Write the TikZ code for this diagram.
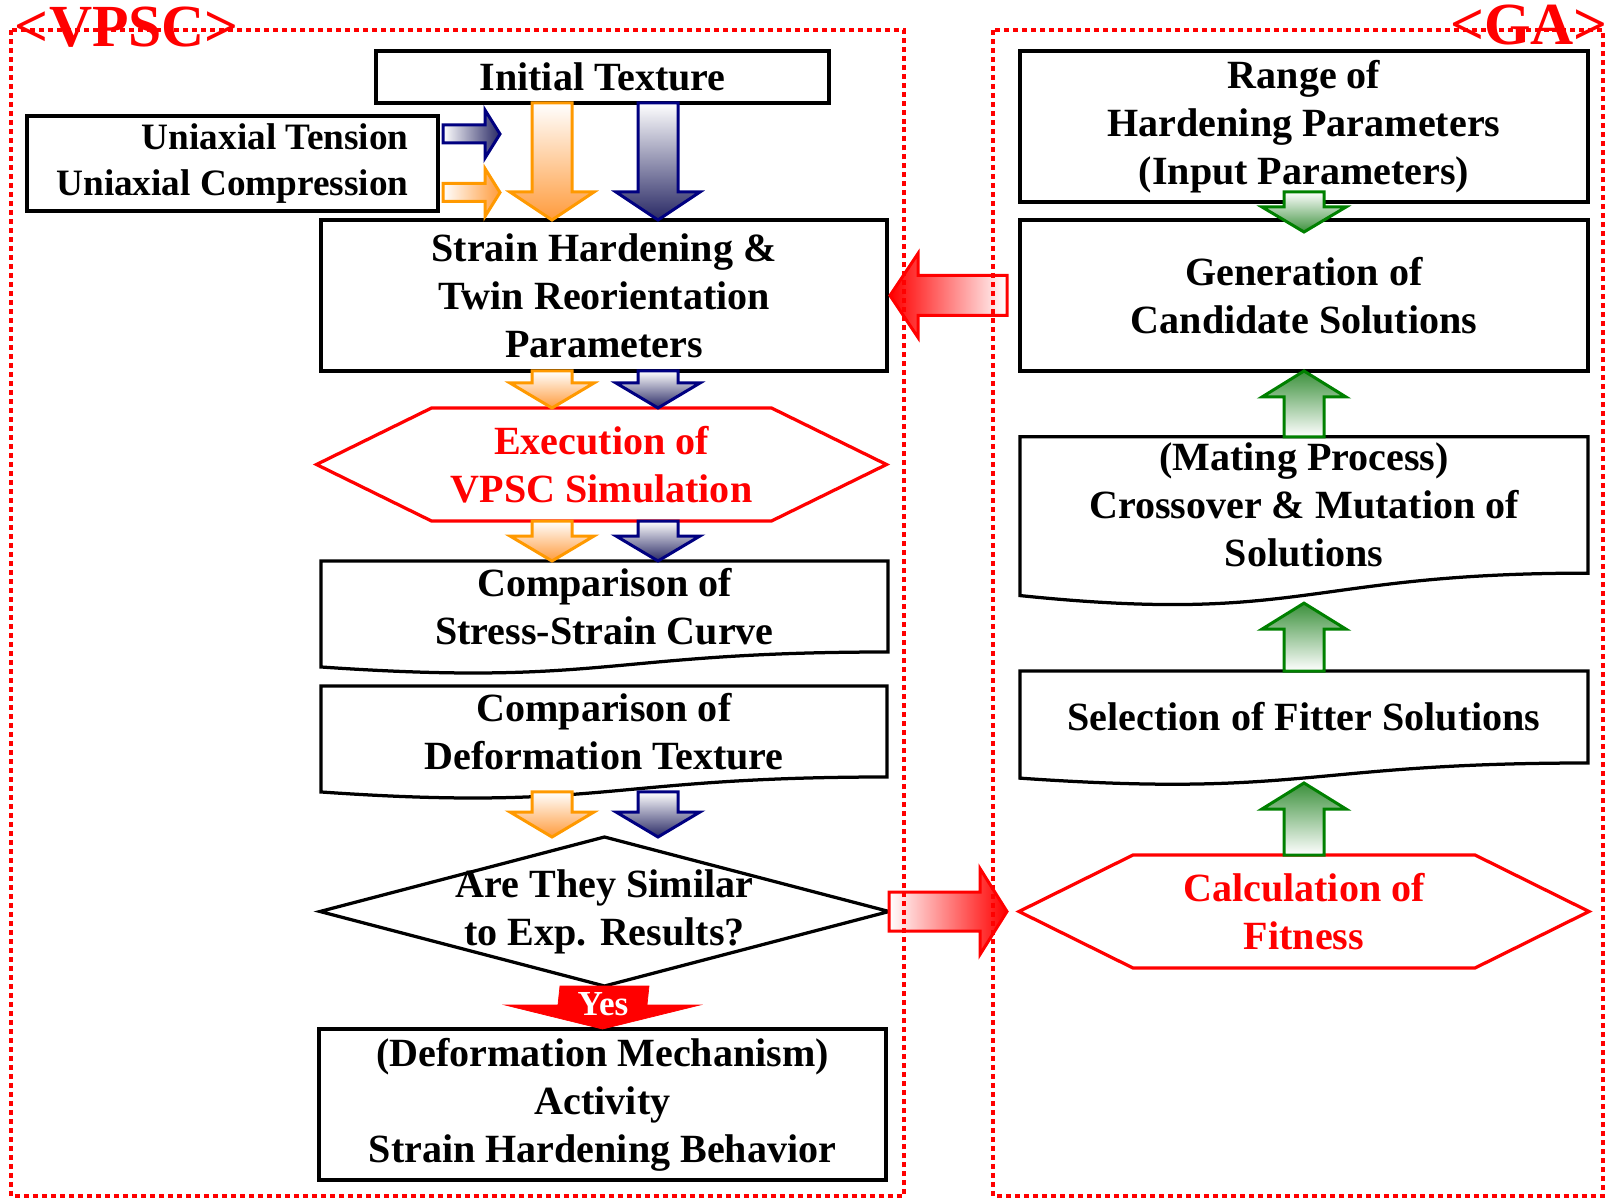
\documentclass[tikz,border=0pt]{standalone}
\usepackage{fontspec}
\setmainfont{Liberation Serif}
\usetikzlibrary{calc}

\definecolor{vorange}{RGB}{255,153,0}
\definecolor{ofill}{RGB}{255,155,60}
\definecolor{vnavy}{RGB}{0,0,128}
\definecolor{nfill}{RGB}{40,40,100}
\definecolor{vgreen}{RGB}{0,128,0}
\definecolor{gfill}{RGB}{60,145,60}
\definecolor{vred}{RGB}{255,0,0}

\newcommand{\pxu}{0.02cm}
\newcommand{\mainfnt}{\fontsize{22.8}{27.4}\selectfont\bfseries}

% document shape (wavy bottom) round a node
\newcommand{\docbox}[1]{\draw[boxline] ($(#1.south west)!-0.1646!(#1.north west)$) -- (#1.north west) -- (#1.north east) -- (#1.south east) .. controls (#1.south) and ($(#1.south)!-0.38!(#1.north)$) .. ($(#1.south west)!-0.1646!(#1.north west)$) -- cycle;}
% hexagon round a node
\newcommand{\hexa}[2]{\draw[hexline] (#1.north west) -- (#1.north east) -- ($(#1.east)+(#2,0)$) -- (#1.south east) -- (#1.south west) -- ($(#1.west)+(-#2,0)$) -- cycle;}

\tikzset{
  boxline/.style={draw=black, line width=0.065cm},
  hexline/.style={draw=vred, line width=0.065cm},
  box/.style={boxline, align=center},
  plain/.style={align=center},
  frame/.style={draw=vred, line width=0.065cm, dash pattern=on 0.1cm off 0.08cm},
  lbl/.style={text=vred, font=\fontsize{34}{40}\selectfont\bfseries},
  fatv/.style n args={3}{to path={
    ($(\tikztostart)+(-#1,0)$) -- ($(\tikztostart)+(#1,0)$)
    -- ($(\tikztotarget)+(#1,#3)$) -- ($(\tikztotarget)+(#2,#3)$)
    -- (\tikztotarget) -- ($(\tikztotarget)+(-#2,#3)$)
    -- ($(\tikztotarget)+(-#1,#3)$) -- cycle}},
  fath/.style n args={3}{to path={
    ($(\tikztostart)+(0,-#1)$) -- ($(\tikztostart)+(0,#1)$)
    -- ($(\tikztotarget)+(#3,#1)$) -- ($(\tikztotarget)+(#3,#2)$)
    -- (\tikztotarget) -- ($(\tikztotarget)+(#3,-#2)$)
    -- ($(\tikztotarget)+(#3,-#1)$) -- cycle}},
  orfill/.style={draw=vorange, line width=0.06cm, top color=white, bottom color=ofill},
  nvfill/.style={draw=vnavy, line width=0.06cm, top color=white, bottom color=nfill},
  orfillh/.style={draw=vorange, line width=0.06cm, left color=white, right color=ofill},
  nvfillh/.style={draw=vnavy, line width=0.06cm, left color=white, right color=nfill},
  grup/.style={draw=vgreen, line width=0.06cm, top color=gfill, bottom color=white},
  grdown/.style={draw=vgreen, line width=0.06cm, top color=white, bottom color=gfill},
  redl/.style={draw=vred, line width=0.06cm, left color=vred, right color=white},
  redr/.style={draw=vred, line width=0.06cm, left color=white, right color=vred},
}

\begin{document}
\begin{tikzpicture}[x=0.02cm, y=-0.02cm, every node/.style={font=\mainfnt, outer sep=0pt}]
\useasboundingbox (0,0) rectangle (1606,1199);

% VPSC side
\node[box, minimum width=453*\pxu, minimum height=52*\pxu] (init) at (602.5,77) {Initial Texture};
\node[box, align=right, font=\fontsize{21.2}{26.1}\selectfont\bfseries, minimum width=411*\pxu, minimum height=95*\pxu] (uni) at (232.5,163.5) {Uniaxial Tension\\Uniaxial Compression};
\node[box, minimum width=566*\pxu, minimum height=151*\pxu] (strain) at (604,295.5) {Strain Hardening \&\\Twin Reorientation\\Parameters};
\node[plain, text=vred, minimum width=340*\pxu, minimum height=113*\pxu] (exec) at (601.5,464.5) {Execution of\\VPSC Simulation};
\hexa{exec}{115}
\node[plain, minimum width=567*\pxu, minimum height=91*\pxu] (stress) at (604.5,606.5) {Comparison of\\Stress-Strain Curve};
\docbox{stress}
\node[plain, minimum width=566*\pxu, minimum height=91*\pxu] (def) at (604,731.5) {Comparison of\\Deformation Texture};
\docbox{def}
\node[plain, minimum width=569*\pxu, minimum height=149*\pxu] (diam) at (604.5,911.5) {Are They Similar\\to Exp. Results?};
\draw[boxline] (diam.west) -- (diam.north) -- (diam.east) -- (diam.south) -- cycle;
\node[box, minimum width=567*\pxu, minimum height=151*\pxu] (final) at (602.5,1104.5) {(Deformation Mechanism)\\Activity\\Strain Hardening Behavior};

\coordinate (ocol) at (552,0);
\coordinate (ncol) at (658,0);
\coordinate (tt) at (500,134);
\coordinate (ct) at (500,192.5);
\coordinate (ts) at ($(uni.east |- tt)+(5,0)$);
\coordinate (cs) at ($(uni.east |- ct)+(5,0)$);
\coordinate (defbot) at ($(def.south west)!-0.1646!(def.north west)$);

\draw[nvfillh, fath={9}{24}{-15}] (ts) to (tt);
\draw[orfillh, fath={9}{24}{-15}] (cs) to (ct);
\draw[orfill, fatv={20}{42}{-28}] (init.south -| ocol) to (strain.north -| ocol);
\draw[nvfill, fatv={20}{42}{-28}] (init.south -| ncol) to (strain.north -| ncol);
\draw[orfill, fatv={20}{42}{-25}] (strain.south -| ocol) to (exec.north -| ocol);
\draw[nvfill, fatv={20}{42}{-25}] (strain.south -| ncol) to (exec.north -| ncol);
\draw[orfill, fatv={20}{42}{-25}] (exec.south -| ocol) to (stress.north -| ocol);
\draw[nvfill, fatv={20}{42}{-25}] (exec.south -| ncol) to (stress.north -| ncol);
\draw[orfill, fatv={20}{42}{-25}] (defbot -| ocol) to (diam.north -| ocol);
\draw[nvfill, fatv={20}{42}{-25}] (defbot -| ncol) to (diam.north -| ncol);
\draw[draw=vred, fill=vred, fatv={44.5}{97.5}{-24}] (diam.south) to (final.north);
\node[font=\fontsize{20}{24}\selectfont\bfseries, text=white] (yes) at (603,1004) {Yes};

% GA side
\node[box, minimum width=568*\pxu, minimum height=151*\pxu] (range) at (1304,126.5) {Range of\\Hardening Parameters\\(Input Parameters)};
\node[box, minimum width=568*\pxu, minimum height=151*\pxu] (gen) at (1304,295.5) {Generation of\\Candidate Solutions};
\node[plain, minimum width=568*\pxu, minimum height=128*\pxu] (mating) at (1304,505) {(Mating Process)\\Crossover \& Mutation of\\Solutions};
\docbox{mating}
\node[plain, minimum width=568*\pxu, minimum height=92*\pxu] (select) at (1304,717) {Selection of Fitter Solutions};
\docbox{select}
\node[plain, text=vred, minimum width=342*\pxu, minimum height=113*\pxu] (fitness) at (1304,911.5) {Calculation of\\Fitness};
\hexa{fitness}{114}

\coordinate (g1s) at ($(range.south)+(0,-10)$);
\coordinate (g1e) at ($(gen.north)+(0,12)$);
\coordinate (g3e) at ($(mating.south)+(0,30)$);
\coordinate (g4e) at ($(select.south)+(0,20)$);
\draw[grdown, fatv={20}{42}{-25}] (g1s) to (g1e);
\draw[grup, fatv={20}{42}{26}] (mating.north) to (gen.south);
\draw[grup, fatv={20}{42}{26}] (select.north) to (g3e);
\draw[grup, fatv={20}{42}{26}] (fitness.north) to (g4e);

% between the two sides
\coordinate (lt) at ($(gen.west)+(-13,0)$);
\coordinate (lh) at ($(strain.east)+(3,0)$);
\coordinate (rh) at ($(fitness.west)+(-126,0)$);
\draw[redl, fath={20}{42}{28}] (lt) to (lh);
\draw[redr, fath={19.5}{43}{-27}] (diam.east) to (rh);

% frames
\draw[frame] (11,30) rectangle (904,1196);
\draw[frame] (993,30) rectangle (1603,1196);
\node[lbl, anchor=base] (vpsclbl) at (127,47) {<VPSC>};
\node[lbl, anchor=base] (galbl) at (1529,45) {<GA>};
\end{tikzpicture}
\end{document}
